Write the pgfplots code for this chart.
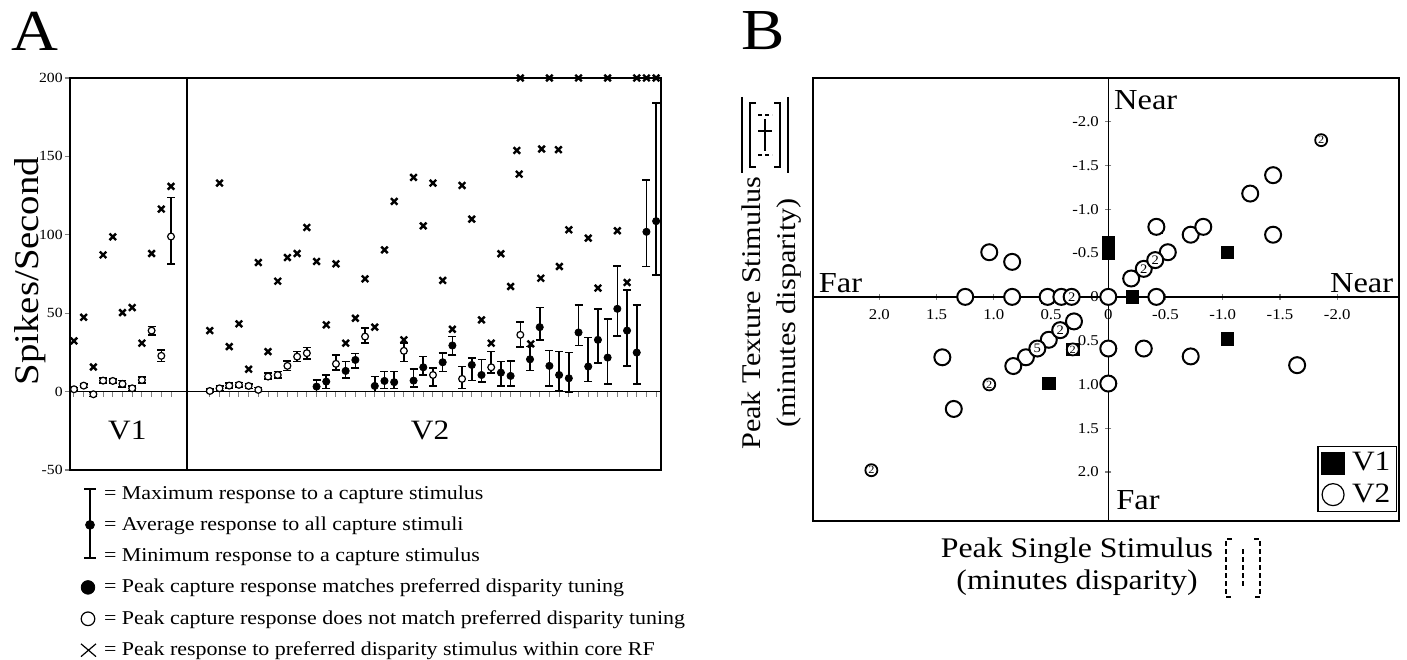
\documentclass[border=0pt]{standalone}
\usepackage{pgfplots}
\pgfplotsset{compat=1.18}
\usepackage{pgfplotstable}
\usepackage{fontspec}
\setmainfont{Liberation Serif}[FakeStretch=1.12]

% ---------- Panel A data ----------
\pgfplotstableread{
i avg max min
1 1.5 2.5 0.5
2 3.8 5.0 2.5
3 -1.7 -0.5 -3.0
4 7.0 8.5 5.5
5 6.8 8.0 5.5
6 4.9 7.0 3.0
7 2.1 3.5 0.5
8 7.4 9.5 5.3
9 38.9 41.5 36.0
10 22.8 26.5 19.1
11 98.9 123.8 81.5
15 0.4 1.5 -0.5
16 2.1 3.5 0.8
17 3.8 5.3 2.3
18 4.3 5.8 2.8
19 3.6 5.0 2.0
20 1.1 2.5 0.0
21 9.6 11.7 7.9
22 10.6 12.8 8.5
23 16.4 19.6 13.4
24 22.3 25.5 19.1
25 24.5 28.1 20.9
28 17.7 23.4 13.8
31 35.1 40.4 30.9
35 26.0 30.9 19.1
38 10.6 14.9 3.6
41 8.1 16.0 2.1
44 15.5 25.5 11.7
47 36.2 44.3 28.3
}\OpenCap

\pgfplotstableread{
i avg max min
26 3.2 7.4 0.0
27 6.4 10.6 2.1
29 13.2 19.1 8.5
30 20.2 24.3 14.9
32 3.6 9.6 0.0
33 6.8 12.8 2.1
34 6.0 12.8 2.1
36 7.0 14.3 2.8
37 15.5 22.3 10.6
39 18.7 24.5 12.8
40 29.4 35.1 23.2
42 17.0 21.3 7.0
43 10.6 20.6 6.0
45 12.1 19.1 3.6
46 10.0 19.6 3.6
48 20.6 28.7 13.4
49 41.1 53.6 33.0
50 16.4 26.2 3.6
51 10.6 25.5 0.4
52 8.5 24.9 -0.6
53 37.7 55.3 29.4
54 16.0 34.5 6.4
55 33.0 52.8 18.1
56 21.7 46.2 4.7
57 52.8 80.2 35.5
58 38.9 64.9 16.4
59 24.9 55.3 4.9
60 101.9 135.1 79.8
61 108.7 184.0 74.5
}\FillCap

\pgfplotstableread{
i v
1 32.3
2 47.4
3 15.7
4 87.2
5 98.7
6 50.4
7 53.6
8 30.9
9 88.1
10 116.4
11 130.9
15 38.9
16 133.0
17 28.7
18 43.2
19 14.3
20 82.3
21 25.5
22 70.4
23 85.5
24 88.1
25 104.7
26 83.0
27 42.6
28 81.5
29 30.9
30 46.8
31 71.9
32 41.1
33 90.4
34 121.3
35 33.0
36 136.6
37 105.7
38 133.0
39 70.9
40 39.8
41 131.5
42 110.0
43 45.7
44 30.9
45 87.9
46 67.0
46.64 153.8
46.88 138.7
47 200
48.08 30.4
49.11 72.3
49.2 154.7
50 200
50.93 154.3
51.03 79.8
52 103.2
53 200
54 97.9
55 66.0
56 200
57 102.6
58 69.6
59 200
60 200
61 200
}\Xpeak

% ---------- Panel B data ----------
\pgfplotstableread{
x y
0.53 0
0 -0.62
0 -0.50
-0.21 0
-0.42 -0.80
-1.04 -0.51
-1.04 0.48
0.52 0.99
0.30 0.28
0.31 0.60
}\BVone

\pgfplotstableread{
x y
1.04 -0.51
0.84 -0.40
1.25 0
0.84 0
0.53 0
0.41 0
0 0
-0.42 0
-0.42 -0.80
-0.20 -0.21
-0.52 -0.51
-0.72 -0.71
-0.83 -0.80
-1.24 -1.18
-1.44 -1.39
-1.44 -0.71
-0.72 0.68
-1.65 0.78
0.30 0.28
0.52 0.49
0.72 0.69
0.83 0.79
1.45 0.69
1.35 1.28
0 0.59
0 0.99
-0.31 0.59
}\BVtwo

\pgfplotstableread{
x y n
0.32 0 2
-0.31 -0.32 2
-0.41 -0.42 2
0.42 0.38 2
0.62 0.59 5
}\BVtwoN

\pgfplotstableread{
x y n
-1.86 -1.79 2
1.04 1.00 2
2.07 1.98 2
0.31 0.60 2
}\BVtwoS

\begin{document}
\begin{tikzpicture}
\useasboundingbox (0,0) rectangle (703.5pt,329.5pt);

% ================= Panel A =================
\begin{axis}[
  at={(35pt,94.5pt)}, anchor=south west, scale only axis,
  width=295.5pt, height=196pt,
  xmin=0.59, xmax=61.5, ymin=-50, ymax=200,
  ytick={-50,0,50,100,150,200},
  xtick={1,2,3,4,5,6,7,8,9,10,11,15,16,17,18,19,20,21,22,23,24,25,26,27,28,29,30,31,32,33,34,35,36,37,38,39,40,41,42,43,44,45,46,47,48,49,50,51,52,53,54,55,56,57,58,59,60,61},
  xticklabels={},
  xtick pos=bottom, ytick pos=left, tick align=outside,
  major tick length=2.5pt,
  xtick style={yshift=39.2pt, line width=0.5pt},
  ytick style={line width=0.6pt},
  yticklabel style={font=\fontsize{7}{8}\selectfont, inner sep=1pt},
  /pgf/number format/assume math mode=true,
  axis line style={line width=0.8pt},
  clip=false,
  legend cell align=left,
  legend style={at={(0,0)}, anchor=north west, xshift=5pt, yshift=-7pt,
    draw=none, fill=none, font=\fontsize{9.8}{10}\selectfont,
    row sep=6.3pt, inner sep=0pt, nodes={inner sep=0.5pt},
    /tikz/every odd column/.append style={column sep=2pt}},
]
\draw[line width=0.8pt] (axis cs:0.59,0) -- (axis cs:61.5,0);
\draw[line width=0.8pt] (axis cs:12.62,-50) -- (axis cs:12.62,200);
\node[font=\fontsize{14}{14}\selectfont] at (axis cs:6.5,-25) {V1};
\node[font=\fontsize{14}{14}\selectfont] at (axis cs:37.7,-25) {V2};

\addplot[only marks, mark=x, mark size=2.3pt, line width=1.2pt, forget plot]
  table[x=i, y=v] {\Xpeak};

\addplot[only marks, mark=*, mark size=1.7pt,
  mark options={fill=white, draw=black, line width=0.6pt, solid},
  forget plot,
  error bars/.cd, y dir=both, y explicit,
  error bar style={line width=0.8pt},
  error mark options={rotate=90, mark size=2pt, line width=0.8pt}]
  table[x=i, y=avg, y error plus expr=\thisrow{max}-\thisrow{avg},
        y error minus expr=\thisrow{avg}-\thisrow{min}] {\OpenCap};

\addplot[only marks, mark=*, mark size=1.8pt,
  mark options={fill=black, draw=black, solid},
  forget plot,
  error bars/.cd, y dir=both, y explicit,
  error bar style={line width=0.8pt},
  error mark options={rotate=90, mark size=2pt, line width=0.8pt}]
  table[x=i, y=avg, y error plus expr=\thisrow{max}-\thisrow{avg},
        y error minus expr=\thisrow{avg}-\thisrow{min}] {\FillCap};

\addlegendimage{legend image code/.code={
  \draw[line width=1.2pt] (1.5pt,2.5pt)--(7.5pt,2.5pt);
  \draw[line width=1.2pt,overlay] (4.5pt,2.5pt)--(4.5pt,-8pt);
  \path[draw=none,fill=none] (0pt,-3pt) (9pt,3pt);}}
\addlegendentry{= Maximum response to a capture stimulus}
\addlegendimage{legend image code/.code={
  \draw[line width=1.2pt,overlay] (4.5pt,8pt)--(4.5pt,-8pt);
  \fill (4.5pt,0pt) circle (2.2pt);
  \path[draw=none,fill=none] (0pt,-3pt) (9pt,3pt);}}
\addlegendentry{= Average response to all capture stimuli}
\addlegendimage{legend image code/.code={
  \draw[line width=1.2pt,overlay] (4.5pt,8pt)--(4.5pt,-1pt);
  \draw[line width=1.2pt] (1.5pt,-1pt)--(7.5pt,-1pt);
  \path[draw=none,fill=none] (0pt,-3pt) (9pt,3pt);}}
\addlegendentry{= Minimum response to a capture stimulus}
\addlegendimage{legend image code/.code={
  \fill (3.5pt,0pt) circle (3.4pt);
  \path[draw=none,fill=none] (0pt,-3pt) (9pt,3pt);}}
\addlegendentry{= Peak capture response matches preferred disparity tuning}
\addlegendimage{legend image code/.code={
  \draw[line width=0.6pt] (3.5pt,0pt) circle (3.4pt);
  \path[draw=none,fill=none] (0pt,-3pt) (9pt,3pt);}}
\addlegendentry{= Peak capture response does not match preferred disparity tuning}
\addlegendimage{legend image code/.code={
  \draw[line width=0.6pt] (0pt,-3.2pt)--(7.5pt,3.2pt) (0pt,3.2pt)--(7.5pt,-3.2pt);
  \path[draw=none,fill=none] (0pt,-3pt) (9pt,3pt);}}
\addlegendentry{= Peak response to preferred disparity stimulus within core RF}
\end{axis}

% ================= Panel B =================
\begin{axis}[
  at={(406.5pt,69pt)}, anchor=south west, scale only axis,
  width=293pt, height=221.5pt,
  x dir=reverse, y dir=reverse,
  xmin=-2.54, xmax=2.58, ymin=-2.50, ymax=2.56,
  axis lines=middle, axis line style={-, line width=0.7pt},
  xtick={-2,-1.5,-1,-0.5,0,0.5,1,1.5,2},
  xticklabels={-2.0,-1.5,-1.0,-0.5,0,0.5,1.0,1.5,2.0},
  ytick={-2,-1.5,-1,-0.5,0,0.5,1,1.5,2},
  yticklabels={-2.0,-1.5,-1.0,-0.5,0,0.5,1.0,1.5,2.0},
  hide obscured x ticks=false, hide obscured y ticks=false,
  tick align=center, major tick length=3pt,
  tick style={line width=0.6pt},
  xticklabel style={font=\fontsize{7.5}{8}\selectfont, anchor=north, inner sep=1pt, yshift=-3.5pt},
  yticklabel style={font=\fontsize{7.5}{8}\selectfont, anchor=east, inner sep=1pt, xshift=-2pt},
  /pgf/number format/assume math mode=true,
  clip=false,
  legend cell align=left,
  legend style={at={(1,0)}, anchor=south east, xshift=-1pt, yshift=4.5pt,
    draw=black, line width=0.6pt, fill=white,
    font=\fontsize{14}{14}\selectfont, row sep=3pt, inner sep=2pt,
    nodes={inner sep=1pt},
    /tikz/every odd column/.append style={column sep=3pt}},
]
\draw[line width=0.8pt] (axis cs:2.58,-2.50) rectangle (axis cs:-2.54,2.56);
\node[anchor=west, font=\fontsize{14.5}{15}\selectfont, inner sep=1pt] at (axis cs:-0.03,-2.25) {Near};
\node[anchor=south west, font=\fontsize{14.5}{15}\selectfont, inner sep=1pt] at (axis cs:2.55,-0.02) {Far};
\node[anchor=south east, font=\fontsize{14.5}{15}\selectfont, inner sep=1pt] at (axis cs:-2.51,-0.02) {Near};
\node[anchor=south west, font=\fontsize{14.5}{15}\selectfont, inner sep=1pt] at (axis cs:-0.05,2.46) {Far};

\addplot[only marks, mark=square*, mark size=3.1pt, black,
  legend image post style={mark size=5.5pt}]
  table[x=x, y=y] {\BVone};
\addlegendentry{V1}
\addplot[only marks, mark=*, mark size=4pt,
  mark options={fill=white, draw=black, line width=1pt},
  legend image post style={mark size=5.5pt, mark options={fill=white, draw=black, line width=0.6pt}}]
  table[x=x, y=y] {\BVtwo};
\addlegendentry{V2}
\addplot[only marks, mark=*, mark size=4pt,
  mark options={fill=white, draw=black, line width=1pt},
  forget plot,
  point meta=explicit symbolic, nodes near coords,
  every node near coord/.append style={anchor=center, inner sep=0pt,
    font=\fontsize{6.5}{6.5}\selectfont}]
  table[x=x, y=y, meta=n] {\BVtwoN};
\addplot[only marks, mark=*, mark size=3pt,
  mark options={fill=white, draw=black, line width=0.9pt},
  forget plot,
  point meta=explicit symbolic, nodes near coords,
  every node near coord/.append style={anchor=center, inner sep=0pt,
    font=\fontsize{5.5}{5.5}\selectfont}]
  table[x=x, y=y, meta=n] {\BVtwoS};
\end{axis}

% ================= Labels =================
\node[font=\fontsize{29}{29}\selectfont] at (17.5pt,314pt) {A};
\node[font=\fontsize{29}{29}\selectfont] at (381.5pt,314pt) {B};
\node[rotate=90, font=\fontsize{17.3}{18}\selectfont] at (15pt,194pt) {Spikes/Second};
\node[rotate=90, align=center, font=\fontsize{13.5}{17.5}\selectfont] at (386pt,173pt)
  {Peak Texture Stimulus\\(minutes disparity)};
\node[align=center, font=\fontsize{14.2}{16}\selectfont] at (538.5pt,46pt)
  {Peak Single Stimulus\\(minutes disparity)};

% stimulus icons
\begin{scope}[line width=1.1pt, dash pattern=on 2.5pt off 1.5pt]
  \draw (616pt,60pt) -- (613pt,60pt) -- (613pt,31pt) -- (616pt,31pt);
  \draw (627pt,60pt) -- (630pt,60pt) -- (630pt,31pt) -- (627pt,31pt);
  \draw (621.5pt,55pt) -- (621.5pt,36pt);
\end{scope}
\begin{scope}[line width=1pt]
  \draw (371pt,281pt) -- (371pt,243pt);
  \draw (394pt,281pt) -- (394pt,243pt);
  \draw (378pt,278pt) -- (375pt,278pt) -- (375pt,246pt) -- (378pt,246pt);
  \draw (387pt,278pt) -- (390pt,278pt) -- (390pt,246pt) -- (387pt,246pt);
  \draw[dash pattern=on 2pt off 1.5pt] (379pt,272pt) -- (386pt,272pt) (379pt,252pt) -- (386pt,252pt);
  \draw (382.5pt,270pt) -- (382.5pt,254pt);
  \draw (379pt,264pt) -- (386pt,264pt);
\end{scope}
\end{tikzpicture}
\end{document}
